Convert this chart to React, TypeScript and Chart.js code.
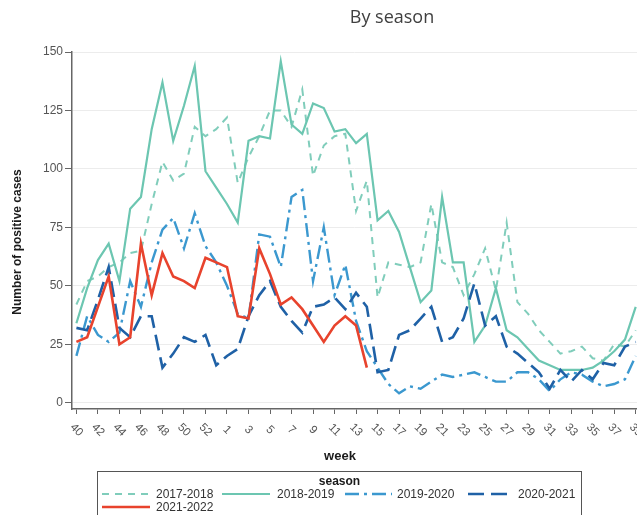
import React, { useEffect, useRef } from "react";
import { Chart, registerables } from "chart.js";

Chart.register(...registerables);

// Week sequence (season runs week 40 -> week 39, incl. week 53)
const weeks = [40, 41, 42, 43, 44, 45, 46, 47, 48, 49, 50, 51, 52, 53, 1, 2, 3, 4, 5, 6, 7, 8, 9, 10, 11, 12, 13, 14, 15, 16, 17, 18, 19, 20, 21, 22, 23, 24, 25, 26, 27, 28, 29, 30, 31, 32, 33, 34, 35, 36, 37, 38, 39];
const tickLabels = ["40", "42", "44", "46", "48", "50", "52", "1", "3", "5", "7", "9", "11", "13", "15", "17", "19", "21", "23", "25", "27", "29", "31", "33", "35", "37", "39"];
const yTicks = [0, 25, 50, 75, 100, 125, 150];

const seasonNames = ["2017-2018", "2018-2019", "2019-2020", "2020-2021", "2021-2022"];

const s2017_2018 = [42, 52, 54, 58, 60, 64, 65, 85, 103, 95, 98, 118, 114, 117, 122, 94, 105, 114, 125, 125, 118, 134, 97, 110, 114, 115, 82, 95, 45, 60, 59, 58, 60, 85, 60, 58, 46, 55, 66, 48, 77, 43, 38, 31, 26, 21, 22, 24, 19, 18, 25, 24, 31];
const s2018_2019 = [34, 49, 61, 68, 52, 83, 88, 117, 137, 112, 127, 144, 99, 92, 85, 77, 112, 114, 113, 146, 119, 115, 128, 126, 116, 117, 111, 115, 78, 82, 73, 58, 43, 48, 88, 60, 60, 26, 33, 49, 31, 28, 23, 18, 16, 14, 14, 14, 15, 18, 22, 27, 41];
const s2019_2020 = [20, 37, 29, 26, 30, 52, 41, 60, 74, 79, 66, 81, 67, 60, 50, 38, 36, 72, 71, 58, 88, 91, 52, 75, 46, 59, 35, 22, 15, 8, 4, 7, 6, 9, 12, 11, 12, 13, 11, 9, 9, 13, 13, 10, 5, 10, 13, 12, 9, 7, 8, 10, 20];
const s2020_2021 = [32, 31, 44, 58, 32, 28, 37, 37, 15, 21, 28, 26, 29, 16, 20, 23, 37, 46, 52, 41, 35, 30, 41, 42, 45, 40, 47, 41, 13, 14, 29, 31, 36, 41, 26, 28, 36, 51, 33, 37, 24, 21, 17, 13, 6, 14, 9, 14, 10, 17, 16, 24, 26];
const s2021_2022 = [26, 28, 41, 54, 25, 28, 68, 46, 64, 54, 52, 49, 62, 60, 58, 37, 36, 66, 55, 42, 45, 40, 33, 26, 33, 37, 33, 15];

const seriesValues = [s2017_2018, s2018_2019, s2019_2020, s2020_2021, s2021_2022];

const styles = [
  { color: "#80cdbb", width: 2, dash: [7, 6] },
  { color: "#6cc6b1", width: 2.2, dash: [] as number[] },
  { color: "#3b98cf", width: 2.4, dash: [14, 5, 3, 5] },
  { color: "#1f61a6", width: 2.6, dash: [16, 7] },
  { color: "#e8432d", width: 2.6, dash: [] as number[] },
];

const FONT = '"Liberation Sans", Arial, sans-serif';

const textPlugin = {
  id: "customText",
  afterDraw(chart: any) {
    const ctx = chart.ctx as CanvasRenderingContext2D;
    const xs = chart.scales.x;
    ctx.save();
    // Title
    ctx.fillStyle = "#404040";
    ctx.font = '18px "Open Sans", sans-serif';
    ctx.textAlign = "center";
    ctx.textBaseline = "middle";
    ctx.fillText("By season", 392, 18);

    // Y title
    ctx.save();
    ctx.translate(18, 242);
    ctx.rotate(-Math.PI / 2);
    ctx.font = "bold 12px " + FONT;
    ctx.fillStyle = "#1a1a1a";
    ctx.fillText("Number of positive cases", 0, 0);
    ctx.restore();

    // X tick labels (rotated clockwise)
    ctx.font = "11.5px " + FONT;
    ctx.fillStyle = "#555";
    tickLabels.forEach((lab) => {
      const idx = weeks.indexOf(Number(lab));
      const x = xs.getPixelForValue(idx);
      ctx.save();
      ctx.translate(x, 430);
      ctx.rotate(Math.PI / 4);
      ctx.textAlign = "center";
      ctx.textBaseline = "middle";
      ctx.fillText(lab, 0, 0);
      ctx.restore();
    });

    // X title
    ctx.font = "bold 13px " + FONT;
    ctx.fillStyle = "#1a1a1a";
    ctx.textAlign = "center";
    ctx.fillText("week", 340, 456);

    // Legend
    ctx.strokeStyle = "#555";
    ctx.lineWidth = 1;
    ctx.setLineDash([]);
    ctx.strokeRect(97.5, 471.5, 484, 60);
    ctx.font = "bold 12px " + FONT;
    ctx.fillStyle = "#1a1a1a";
    ctx.fillText("season", 339.5, 482);

    const items = [
      { x0: 102, x1: 150, tx: 156, y: 494 },
      { x0: 222, x1: 270, tx: 277, y: 494 },
      { x0: 345, x1: 392, tx: 397, y: 494 },
      { x0: 468, x1: 512, tx: 518, y: 494 },
      { x0: 102, x1: 150, tx: 156, y: 507 },
    ];
    ctx.font = "12px " + FONT;
    ctx.textAlign = "left";
    items.forEach((it, i) => {
      const st = styles[i];
      ctx.save();
      ctx.strokeStyle = st.color;
      ctx.lineWidth = st.width;
      ctx.setLineDash(st.dash);
      ctx.beginPath();
      ctx.moveTo(it.x0, it.y);
      ctx.lineTo(it.x1, it.y);
      ctx.stroke();
      ctx.restore();
      ctx.fillStyle = "#333";
      ctx.fillText(seasonNames[i], it.tx, it.y + 0.5);
    });
    ctx.restore();
  },
};

export default function App() {
  const canvasRef = useRef<HTMLCanvasElement | null>(null);

  useEffect(() => {
    if (!canvasRef.current) return;
    const datasets = seriesValues.map((vals, i) => ({
      label: seasonNames[i],
      data: vals.map((v, k) => ({ x: k, y: v })),
      borderColor: styles[i].color,
      borderWidth: styles[i].width,
      borderDash: styles[i].dash,
      pointRadius: 0,
      tension: 0,
      fill: false,
      order: 5 - i,
    }));
    const chart = new Chart(canvasRef.current, {
      type: "line",
      data: { datasets },
      options: {
        animation: false,
        responsive: false,
        devicePixelRatio: 1,
        layout: { padding: { top: 52, right: 0, bottom: 0, left: 0 }, autoPadding: false },
        plugins: { legend: { display: false }, tooltip: { enabled: false }, title: { display: false } },
        scales: {
          x: {
            type: "linear",
            min: -0.41,
            max: 52.12,
            afterBuildTicks: (scale: any) => {
              scale.ticks = tickLabels.map((l) => ({ value: weeks.indexOf(Number(l)) }));
            },
            afterFit: (scale: any) => {
              scale.height = 106;
            },
            ticks: { display: false },
            grid: { drawOnChartArea: false, drawTicks: true, tickLength: 5, tickColor: "#666", tickWidth: 1 },
            border: { display: true, color: "#666", width: 1.5 },
          },
          y: {
            type: "linear",
            min: -2.7,
            max: 150,
            afterBuildTicks: (scale: any) => {
              scale.ticks = yTicks.map((v) => ({ value: v }));
            },
            afterFit: (scale: any) => {
              scale.width = 72;
            },
            ticks: { color: "#555", font: { size: 12, family: FONT }, padding: 2 },
            grid: { color: "#ececec", lineWidth: 1, drawTicks: true, tickLength: 7, tickColor: "#666" },
            border: { display: true, color: "#666", width: 1.5 },
          },
        },
      },
      plugins: [textPlugin],
    } as any);
    return () => chart.destroy();
  }, []);

  return (
    <div style={{ position: "absolute", left: 0, top: 0, width: 637, height: 515, background: "#fff" }}>
      <canvas ref={canvasRef} width={637} height={515} />
    </div>
  );
}
